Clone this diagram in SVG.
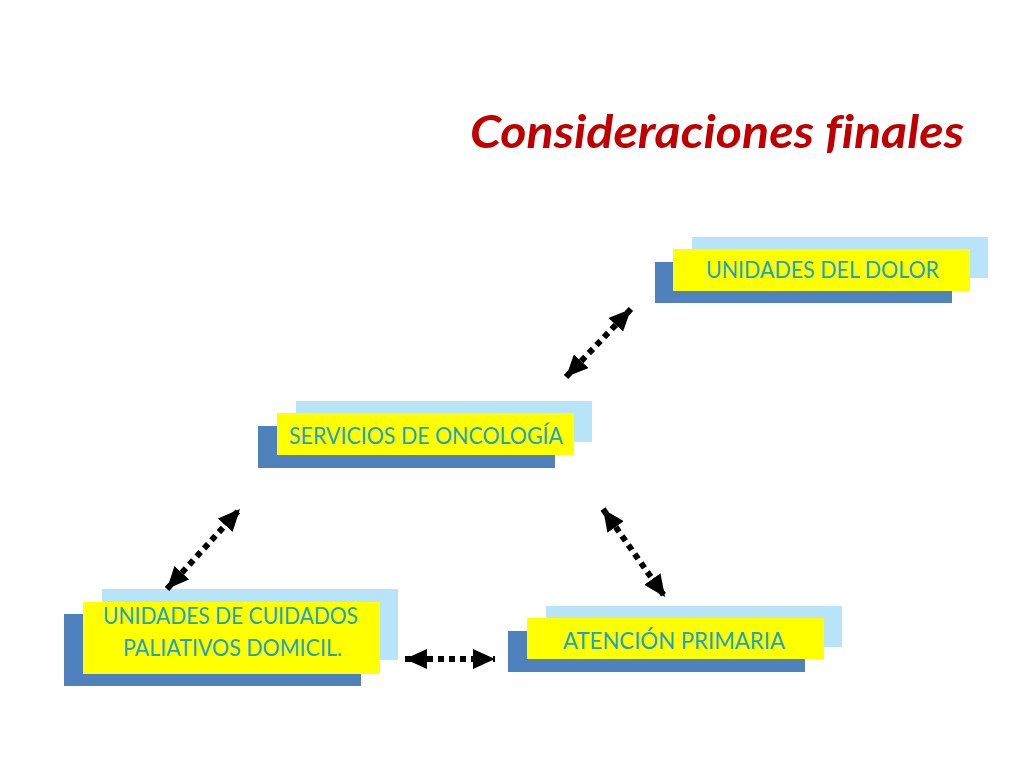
<svg xmlns="http://www.w3.org/2000/svg" width="1024" height="768" viewBox="0 0 1024 768">
<defs>
<style>
.lb{fill:#B8E4F9}
.db{fill:#4F81BD}
.yl{fill:#FFFF00}
.tx{font-family:Lato,"Liberation Sans",Arial,sans-serif;font-size:24px;fill:#1AA5C4}
.title{font-family:Lato,"Liberation Sans",Arial,sans-serif;font-size:46px;font-weight:bold;font-style:italic;fill:#C00000;font-variant-ligatures:none}
.conn{stroke:#000;stroke-width:6;stroke-dasharray:6 5;fill:none}
</style>
<marker id="ah" viewBox="0 0 22 20" refX="22" refY="10" markerWidth="22" markerHeight="20" markerUnits="userSpaceOnUse" orient="auto-start-reverse">
<path d="M0,0 L22,10 L0,20 Z" fill="#000"/>
</marker>
</defs>
<rect width="1024" height="768" fill="#fff"/>
<text class="title" x="470" y="148" textLength="494" lengthAdjust="spacingAndGlyphs">Consideraciones finales</text>

<g id="node-dolor">
<rect class="lb" x="692" y="237" width="296" height="41"/>
<rect class="db" x="655" y="262" width="297" height="41"/>
<rect class="yl" x="673" y="249" width="297" height="42"/>
<text class="tx" x="706" y="278" textLength="233" lengthAdjust="spacingAndGlyphs">UNIDADES DEL DOLOR</text>
</g>

<g id="node-oncologia">
<rect class="lb" x="296" y="401" width="296" height="41"/>
<rect class="db" x="258" y="426" width="297" height="42"/>
<rect class="yl" x="277" y="413" width="297" height="42"/>
<text class="tx" x="289" y="444" textLength="274" lengthAdjust="spacingAndGlyphs">SERVICIOS DE ONCOLOGÍA</text>
</g>

<g id="node-paliativos">
<rect class="lb" x="102" y="589" width="296" height="71"/>
<rect class="db" x="64" y="614" width="297" height="72"/>
<rect class="yl" x="83" y="602" width="297" height="72"/>
<text class="tx" x="103" y="624" textLength="255" lengthAdjust="spacingAndGlyphs">UNIDADES DE CUIDADOS</text>
<text class="tx" x="123" y="656" textLength="219" lengthAdjust="spacingAndGlyphs">PALIATIVOS DOMICIL.</text>
</g>

<g id="node-primaria">
<rect class="lb" x="546" y="606" width="296" height="41"/>
<rect class="db" x="508" y="631" width="297" height="41"/>
<rect class="yl" x="527" y="618" width="297" height="41"/>
<text class="tx" x="563" y="649" textLength="222" lengthAdjust="spacingAndGlyphs">ATENCIÓN PRIMARIA</text>
</g>

<g id="connectors">
<line class="conn" x1="566" y1="377" x2="631" y2="309" marker-start="url(#ah)" marker-end="url(#ah)"/>
<line class="conn" x1="167" y1="589" x2="240" y2="509" marker-start="url(#ah)" marker-end="url(#ah)"/>
<line class="conn" x1="603" y1="509" x2="665" y2="597" marker-start="url(#ah)" marker-end="url(#ah)"/>
<line class="conn" x1="405" y1="659" x2="495" y2="659" marker-start="url(#ah)" marker-end="url(#ah)"/>
</g>
</svg>
